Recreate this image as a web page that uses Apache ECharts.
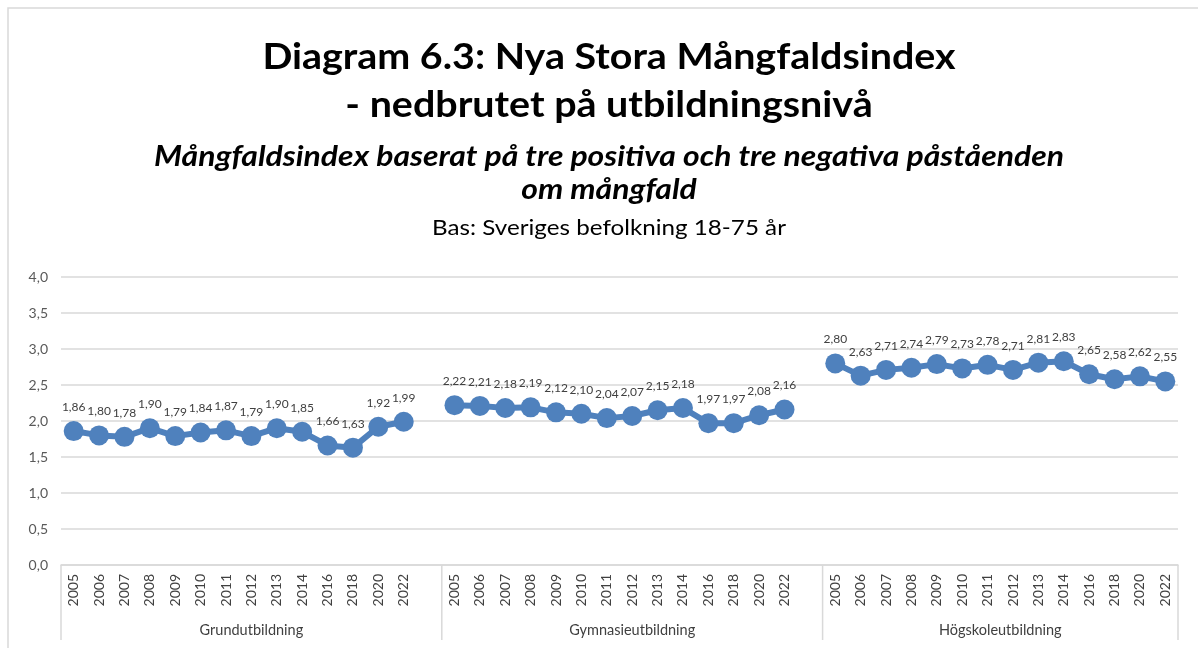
<!DOCTYPE html>
<html>
<head>
<meta charset="utf-8">
<script src="https://cdn.jsdelivr.net/npm/echarts@6/dist/echarts.min.js"></script>
<style>html,body{margin:0;padding:0;background:#fff;}#c{width:1198px;height:648px;}</style>
</head>
<body>
<div id="c"></div>
<script>
const years = ['2005','2006','2007','2008','2009','2010','2011','2012','2013','2014','2016','2018','2020','2022'];
const groups = ['Grundutbildning','Gymnasieutbildning','Högskoleutbildning'];
const grund = [1.86,1.80,1.78,1.90,1.79,1.84,1.87,1.79,1.90,1.85,1.66,1.63,1.92,1.99];
const gymnasie = [2.22,2.21,2.18,2.19,2.12,2.10,2.04,2.07,2.15,2.18,1.97,1.97,2.08,2.16];
const hogskola = [2.80,2.63,2.71,2.74,2.79,2.73,2.78,2.71,2.81,2.83,2.65,2.58,2.62,2.55];
const yTicks = [0,0.5,1,1.5,2,2.5,3,3.5,4];

const seriesByGroup = [grund, gymnasie, hogskola];
const cats = [];
const values = [];
const groupSpans = [];
seriesByGroup.forEach((arr, g) => {
  const start = cats.length;
  years.forEach((y, i) => { cats.push(y); values.push(arr[i]); });
  if (g < seriesByGroup.length - 1) { cats.push(''); values.push(null); }
  groupSpans.push([start, 0, cats.length - start, groups[g], g === seriesByGroup.length - 1 ? 1 : 0]);
});

const fmt = v => v.toFixed(2).replace('.', ',');
const FONT = "Lato, 'Open Sans', sans-serif";
const cx = 609;
const SEP = '#d9d9d9';

function txt(text, y, font, sx) {
  return {type: 'text', x: cx, y: y, scaleX: sx, style: {text: text, font: font, fill: '#000', align: 'center', verticalAlign: 'middle'}};
}

const chart = echarts.init(document.getElementById('c'), null, {renderer: 'canvas'});
chart.setOption({
  animation: false,
  backgroundColor: '#fff',
  grid: {left: 61, right: 20, top: 277, bottom: 83, containLabel: false},
  graphic: [
    {type: 'rect', shape: {x: 8, y: 8, width: 1260, height: 700}, style: {fill: 'none', stroke: SEP, lineWidth: 1.5}, silent: true},
    txt('Diagram 6.3: Nya Stora Mångfaldsindex', 57, "bold 37px " + FONT, 1.065),
    txt('- nedbrutet på utbildningsnivå', 105, "bold 37px " + FONT, 1.065),
    txt('Mångfaldsindex baserat på tre positiva och tre negativa påståenden', 157, "italic bold 28px " + FONT, 1.14),
    txt('om mångfald', 190, "italic bold 28px " + FONT, 1.14),
    txt('Bas: Sveriges befolkning 18-75 år', 228, "22px " + FONT, 1.1)
  ],
  xAxis: {
    type: 'category', data: cats, boundaryGap: true,
    axisLine: {show: true, lineStyle: {color: SEP, width: 1.5}},
    axisTick: {show: false},
    axisLabel: {interval: 0, rotate: 90, margin: 9, fontSize: 14, color: '#404040', fontFamily: FONT}
  },
  yAxis: {
    type: 'value', min: yTicks[0], max: yTicks[yTicks.length - 1], interval: 0.5,
    axisLine: {show: false}, axisTick: {show: false},
    axisLabel: {margin: 13, fontSize: 14, color: '#595959', fontFamily: FONT, formatter: v => v.toFixed(1).replace('.', ',')},
    splitLine: {lineStyle: {color: SEP, width: 1.5}}
  },
  series: [
    {
      type: 'line', data: values, connectNulls: false,
      symbol: 'circle', symbolSize: 20,
      lineStyle: {color: '#4f81bd', width: 6},
      itemStyle: {color: '#4f81bd'},
      label: {show: true, position: 'top', distance: 8, fontSize: 12, color: '#404040', fontFamily: FONT, formatter: p => fmt(p.value)}
    },
    {
      type: 'custom', data: groupSpans, clip: false, silent: true, z: 1,
      encode: {x: 0, y: 1},
      renderItem: (params, api) => {
        const startIdx = api.value(0);
        const count = api.value(2);
        const isLast = api.value(4) === 1;
        const c = api.coord([startIdx, 0]);
        const band = api.size([1, 0])[0];
        const x0 = c[0] - band / 2;
        const x1 = x0 + band * count;
        const y0 = c[1];
        const children = [
          {type: 'line', shape: {x1: x0, y1: y0, x2: x0, y2: y0 + 75}, style: {stroke: SEP, lineWidth: 1.5}},
          {type: 'text', x: (x0 + x1) / 2, y: y0 + 65, style: {text: groups[params.dataIndex], font: "14.5px " + FONT, fill: '#404040', align: 'center', verticalAlign: 'middle'}}
        ];
        if (isLast) children.push({type: 'line', shape: {x1: x1, y1: y0, x2: x1, y2: y0 + 75}, style: {stroke: SEP, lineWidth: 1.5}});
        return {type: 'group', children: children};
      }
    }
  ]
});
</script>
</body>
</html>
